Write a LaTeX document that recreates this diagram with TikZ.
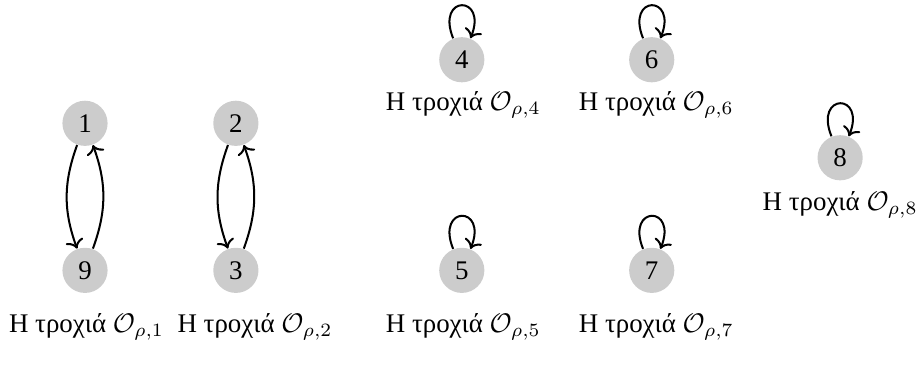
\documentclass[tikz,border=0pt]{standalone}
\usepackage{amsmath, amssymb}
\usepackage{fontspec}
\setmainfont{Liberation Serif}
\usepackage{tikz}
\usetikzlibrary{arrows.meta, positioning}

\begin{document}
\begin{tikzpicture}[
  font=\normalsize,
  >=To,
  state/.style={
    circle,
    fill=gray!40,
    minimum size=0.59cm,
    inner sep=0pt
  },
  orbit/.style={
    inner sep=1pt,
    anchor=center
  },
  arrow/.style={->, line width=0.75pt},
  selfloop/.style={->, line width=0.75pt, out=112, in=68, looseness=7, min distance=3.8mm}
]
\useasboundingbox (0,0) rectangle (12,-4.766);

% first orbit: 1 <-> 9
\node[state] (n1) at (1.11,-1.61) {1};
\node[state] (n9) at (1.11,-3.53) {9};
\node[orbit] (o1) at (1.13,-4.27) {Η τροχιά $\mathcal{O}_{\rho,1}$};

% second orbit: 2 <-> 3
\node[state] (n2) at (3.08,-1.61) {2};
\node[state] (n3) at (3.08,-3.53) {3};
\node[orbit] (o2) at (3.33,-4.27) {Η τροχιά $\mathcal{O}_{\rho,2}$};

% fixed points
\node[state] (n4) at (6.03,-0.78) {4};
\node[orbit] (o4) at (6.05,-1.37) {Η τροχιά $\mathcal{O}_{\rho,4}$};
\node[state] (n6) at (8.51,-0.78) {6};
\node[orbit] (o6) at (8.57,-1.37) {Η τροχιά $\mathcal{O}_{\rho,6}$};
\node[state] (n5) at (6.03,-3.53) {5};
\node[orbit] (o5) at (6.05,-4.27) {Η τροχιά $\mathcal{O}_{\rho,5}$};
\node[state] (n7) at (8.51,-3.53) {7};
\node[orbit] (o7) at (8.57,-4.27) {Η τροχιά $\mathcal{O}_{\rho,7}$};
\node[state] (n8) at (10.97,-2.06) {8};
\node[orbit] (o8) at (10.97,-2.68) {Η τροχιά $\mathcal{O}_{\rho,8}$};

\draw[arrow] (n1) to[bend right=20] (n9);
\draw[arrow] (n9) to[bend right=20] (n1);
\draw[arrow] (n2) to[bend right=20] (n3);
\draw[arrow] (n3) to[bend right=20] (n2);

\draw[selfloop] (n4) to (n4);
\draw[selfloop] (n6) to (n6);
\draw[selfloop] (n5) to (n5);
\draw[selfloop] (n7) to (n7);
\draw[selfloop] (n8) to (n8);

\end{tikzpicture}
\end{document}
